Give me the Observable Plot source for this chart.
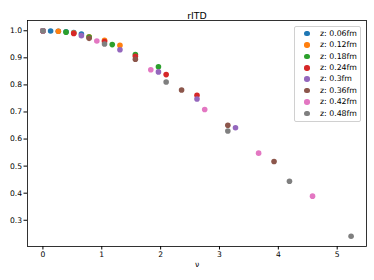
<!DOCTYPE html>
<html><head><meta charset="utf-8">
<script src="https://cdn.jsdelivr.net/npm/d3@7"></script>
<script src="https://cdn.jsdelivr.net/npm/@observablehq/plot@0.6"></script>
<style>
body{margin:0;background:#fff;font-family:"DejaVu Sans",sans-serif;}
#wrap{position:relative;width:374px;height:280px;}
#legend{position:absolute;left:294px;top:26px;width:67px;height:96px;border:1px solid #d0d0d0;border-radius:2px;background:rgba(255,255,255,0.85);box-sizing:border-box;}
.row{position:absolute;left:0;height:11px;font-size:7.8px;line-height:11px;color:#000;white-space:nowrap;}
.sw{position:absolute;left:9px;top:3px;width:5.5px;height:5.5px;border-radius:50%;}
.lb{position:absolute;left:25px;top:0;}
</style></head>
<body><div id="wrap"><div id="legend"></div></div>
<script>
const title = "rITD";
const xLabel = "ν";
const labels = ["z: 0.06fm","z: 0.12fm","z: 0.18fm","z: 0.24fm","z: 0.3fm","z: 0.36fm","z: 0.42fm","z: 0.48fm"];
const colors = ["#1f77b4","#ff7f0e","#2ca02c","#d62728","#9467bd","#8c564b","#e377c2","#7f7f7f"];
const xTicks = [0,1,2,3,4,5];
const yTicks = [0.3,0.4,0.5,0.6,0.7,0.8,0.9,1.0];

const nu06 = [0, 0.131, 0.262, 0.393, 0.524, 0.654];
const r06  = [1.0, 0.999, 0.998, 0.996, 0.993, 0.988];
const nu12 = [0, 0.262, 0.524, 0.785, 1.047, 1.309];
const r12  = [1.0, 0.998, 0.992, 0.978, 0.965, 0.946];
const nu18 = [0, 0.393, 0.785, 1.178, 1.571, 1.963];
const r18  = [1.0, 0.995, 0.977, 0.949, 0.912, 0.867];
const nu24 = [0, 0.524, 1.047, 1.571, 2.094, 2.618];
const r24  = [1.0, 0.990, 0.960, 0.906, 0.838, 0.762];
const nu30 = [0, 0.654, 1.309, 1.963, 2.618, 3.272];
const r30  = [1.0, 0.982, 0.930, 0.848, 0.748, 0.642];
const nu36 = [0, 0.785, 1.571, 2.356, 3.142, 3.927];
const r36  = [1.0, 0.972, 0.895, 0.781, 0.651, 0.517];
const nu42 = [0, 0.916, 1.833, 2.749, 3.665, 4.581];
const r42  = [1.0, 0.962, 0.856, 0.709, 0.548, 0.389];
const nu48 = [0, 1.047, 2.094, 3.142, 4.189, 5.236];
const r48  = [1.0, 0.951, 0.811, 0.630, 0.444, 0.241];

const nus = [nu06,nu12,nu18,nu24,nu30,nu36,nu42,nu48];
const rs = [r06,r12,r18,r24,r30,r36,r42,r48];
const data = [];
nus.forEach((arr,i)=>arr.forEach((v,j)=>data.push({nu:v, r:rs[i][j], s:labels[i]})));

const xmin = d3.min(data,d=>d.nu), xmax = d3.max(data,d=>d.nu);
const ymin = d3.min(data,d=>d.r), ymax = d3.max(data,d=>d.r);
const mx = (xmax-xmin)*0.05, my = (ymax-ymin)*0.05;

const chart = Plot.plot({
  width:374, height:280,
  marginLeft:27, marginRight:8, marginTop:20, marginBottom:34,
  style:{fontFamily:"DejaVu Sans, sans-serif", fontSize:"7.6px", color:"#000", background:"#fff"},
  x:{domain:[xmin-mx, xmax+mx]},
  y:{domain:[ymin-my, ymax+my]},
  color:{domain:labels, range:colors},
  marks:[
    Plot.axisX({ticks:xTicks, tickSize:3.5, tickPadding:2, tickFormat:d3.format("d"), label:null, fontSize:7.6}),
    Plot.axisY({ticks:yTicks, tickSize:3.5, tickPadding:2, tickFormat:d3.format(".1f"), label:null, fontSize:7.6}),
    Plot.dot(data,{x:"nu", y:"r", fill:"s", r:2.8, stroke:null}),
    Plot.frame({stroke:"#000", strokeWidth:0.8}),
    Plot.text([title],{text:d=>d, frameAnchor:"top", dy:-8, fontSize:9.4}),
    Plot.text([xLabel],{text:d=>d, frameAnchor:"bottom", dy:20, fontSize:7.6})
  ]
});
const wrap = document.getElementById("wrap");
wrap.insertBefore(chart, wrap.firstChild);

const lg = document.getElementById("legend");
labels.forEach((l,i)=>{
  const row = document.createElement("div");
  row.className="row";
  row.style.top = (0.8 + i*11.4)+"px";
  row.innerHTML = `<span class="sw" style="background:${colors[i]}"></span><span class="lb">${l}</span>`;
  lg.appendChild(row);
});
</script>
</body></html>
